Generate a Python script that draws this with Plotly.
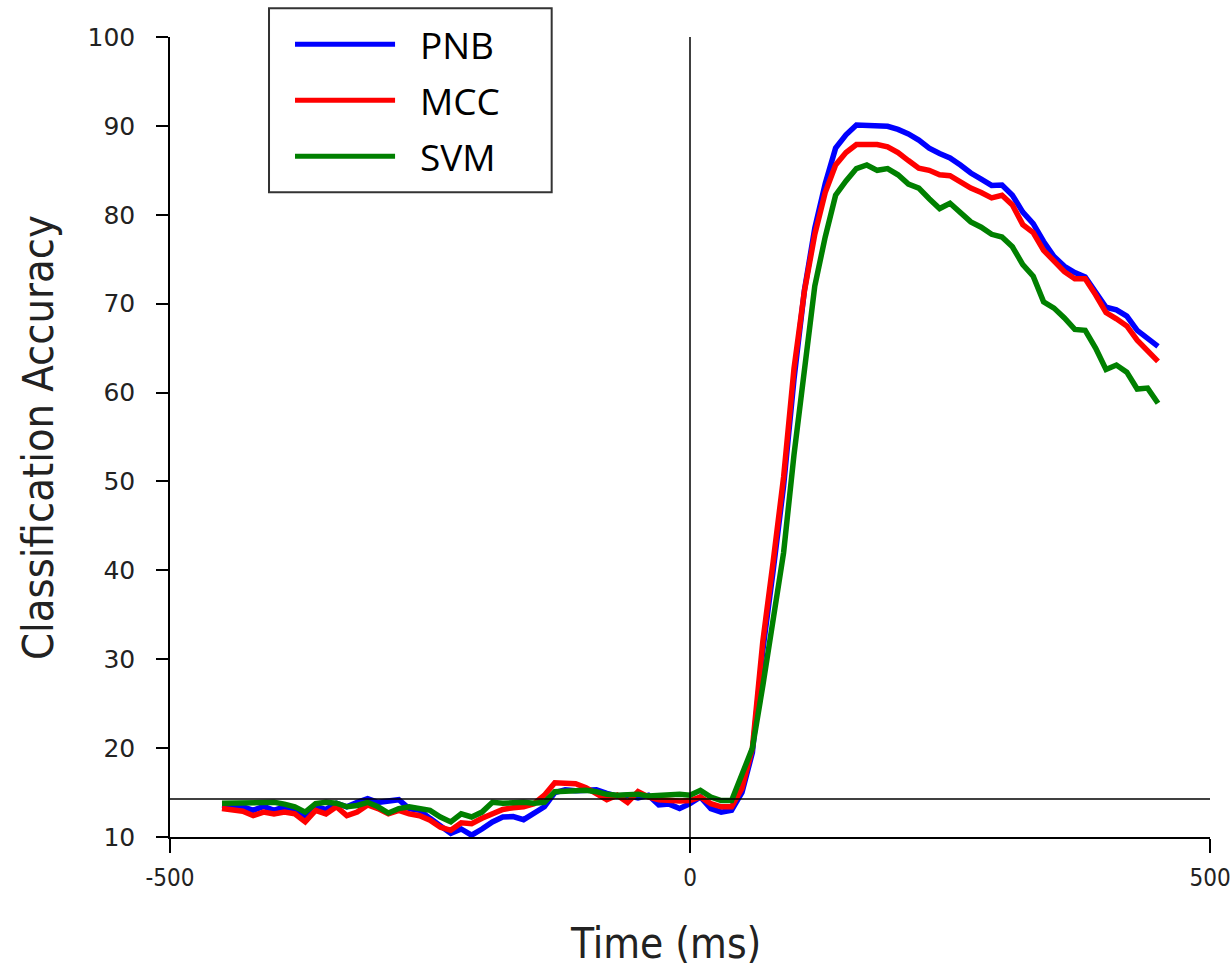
import plotly.graph_objects as go

# ---- data ----
time_ms = list(range(-450, 451, 10))

pnb = [13.56, 13.45, 13.4, 13.0, 13.45, 13.0, 13.4, 13.0, 12.25, 13.4,
       13.1, 13.8, 13.4, 13.9, 14.3, 13.9, 14.1, 14.2, 13.2, 13.0,
       12.1, 11.3, 10.4, 10.9, 10.2, 10.9, 11.7, 12.25, 12.3, 11.95,
       12.6, 13.4, 15.0, 15.3, 15.2, 15.3, 15.3, 14.9, 14.6, 14.7,
       14.4, 14.7, 13.6, 13.7, 13.2, 13.75, 14.5, 13.2, 12.8, 13.0,
       15.0, 19.5, 31.0, 40.0, 49.5, 61.5, 71.5, 78.5, 83.5, 87.5,
       89.0, 90.1, 90.1, 90.1, 89.95, 89.6, 89.1, 88.4, 87.5, 86.9,
       86.4, 85.6, 84.7, 84.0, 83.3, 83.35, 82.2, 80.3, 79.0, 77.0,
       75.3, 74.2, 73.5, 73.0, 71.3, 69.6, 69.3, 68.6, 67.0, 66.0,
       65.2]

mcc = [13.2, 13.1, 12.9, 12.4, 12.8, 12.6, 12.8, 12.6, 11.7, 13.0,
       12.6, 13.4, 12.4, 12.8, 13.6, 13.2, 12.6, 13.0, 12.6, 12.4,
       11.9, 11.1, 10.75, 11.6, 11.5, 12.1, 12.6, 13.1, 13.3, 13.4,
       13.75, 14.7, 16.1, 16.1, 16.0, 15.55, 14.95, 14.2, 14.7, 13.9,
       15.1, 14.5, 14.2, 14.1, 14.05, 14.1, 14.5, 13.75, 13.4, 13.4,
       15.5, 20.0, 32.0, 41.0, 50.5, 62.7, 71.4, 77.8, 82.5, 85.6,
       87.0, 87.9, 87.9, 87.9, 87.65, 87.0, 86.1, 85.25, 85.0, 84.5,
       84.4, 83.7, 83.0, 82.5, 81.9, 82.2, 81.1, 78.9, 78.0, 76.0,
       74.8, 73.6, 72.8, 72.8, 71.0, 69.0, 68.3, 67.5, 65.9, 64.6,
       63.5]

svm = [13.8, 13.8, 13.8, 13.8, 13.9, 13.9, 13.7, 13.4, 12.8, 13.75,
       13.9, 13.8, 13.4, 13.55, 13.9, 13.4, 12.7, 13.2, 13.4, 13.2,
       13.0, 12.25, 11.7, 12.6, 12.25, 12.8, 13.9, 13.8, 13.9, 13.9,
       13.8, 13.9, 15.1, 15.2, 15.3, 15.25, 15.1, 14.8, 14.7, 14.75,
       14.8, 14.6, 14.7, 14.7, 14.8, 14.7, 15.25, 14.5, 14.1, 14.1,
       17.0, 20.0, 27.0, 34.5, 42.0, 53.0, 63.0, 72.0, 77.5, 82.2,
       83.8, 85.2, 85.6, 85.0, 85.2, 84.5, 83.45, 83.0, 81.8, 80.7,
       81.3, 80.2, 79.2, 78.6, 77.8, 77.5, 76.4, 74.4, 73.1, 70.2,
       69.5, 68.4, 67.1, 67.0, 65.0, 62.6, 63.1, 62.3, 60.4, 60.5,
       58.8]

series_names = ["PNB", "MCC", "SVM"]
series_values = [pnb, mcc, svm]
series_colors = ["#0000FF", "#FF0000", "#008000"]

x_ticks = [-500, 0, 500]
y_ticks = [10, 20, 30, 40, 50, 60, 70, 80, 90, 100]
chance_level = 100 / 7

narrow = "Liberation Sans Narrow, DejaVu Sans Condensed, Roboto, sans-serif"

# ---- figure ----
fig = go.Figure()
for name, vals, col in zip(series_names, series_values, series_colors):
    fig.add_trace(go.Scatter(x=time_ms, y=vals, mode="lines", name=name,
                             line=dict(color=col, width=5.5), showlegend=False))

# reference lines
fig.add_shape(type="line", xref="x", yref="y", x0=0, x1=0, y0=10, y1=100,
              line=dict(color="black", width=1.5))
fig.add_shape(type="line", xref="x", yref="y", x0=-500, x1=500,
              y0=chance_level, y1=chance_level,
              line=dict(color="black", width=1.5))

# custom legend
lx0, lx1, ly0, ly1 = 0.0952, 0.367, 0.806, 1.036
fig.add_shape(type="rect", xref="paper", yref="paper", x0=lx0, x1=lx1, y0=ly0, y1=ly1,
              line=dict(color="#333333", width=2), fillcolor="white", layer="above")
leg_y = [0.991, 0.921, 0.851]
for name, col, yy in zip(series_names, series_colors, leg_y):
    fig.add_shape(type="line", xref="paper", yref="paper", x0=0.1202, x1=0.2164,
                  y0=yy, y1=yy, line=dict(color=col, width=5), layer="above")
    fig.add_annotation(xref="paper", yref="paper", x=0.238, y=yy, text=name,
                       showarrow=False, xanchor="left", yanchor="middle",
                       font=dict(family="Open Sans, Noto Sans, sans-serif", size=37, color="black"))

# axis titles
fig.add_annotation(xref="paper", yref="paper", x=0.476, y=-0.133, text="Time (ms)",
                   showarrow=False, xanchor="center", yanchor="middle",
                   font=dict(family=narrow, size=42, color="#222222"))
fig.add_annotation(xref="paper", yref="paper", x=-0.127, y=0.5, text="Classification Accuracy",
                   showarrow=False, xanchor="center", yanchor="middle", textangle=-90,
                   font=dict(family=narrow, size=43, color="#222222"))

fig.update_layout(
    width=1231, height=969,
    margin=dict(l=170, r=21, t=37, b=132),
    plot_bgcolor="white", paper_bgcolor="white",
    showlegend=False,
)
fig.update_xaxes(range=[-500, 500], tickvals=x_ticks, ticktext=[str(v) for v in x_ticks],
                 automargin=False,
                 showgrid=False, zeroline=False, showline=True, linecolor="black", linewidth=1.5,
                 ticks="outside", ticklen=14, tickwidth=1.5, tickcolor="black",
                 ticklabeloverflow="allow", ticklabelstandoff=4,
                 tickfont=dict(family=narrow, size=24, color="#222222"))
fig.update_yaxes(range=[10, 100], tickvals=y_ticks, automargin=False,
                 showgrid=False, zeroline=False, showline=True, linecolor="black", linewidth=1.5,
                 ticks="outside", ticklen=12, tickwidth=1.5, tickcolor="black",
                 ticklabelstandoff=16,
                 tickfont=dict(family="DejaVu Sans, sans-serif", size=25, color="#222222"))

fig.write_html("out.html")
